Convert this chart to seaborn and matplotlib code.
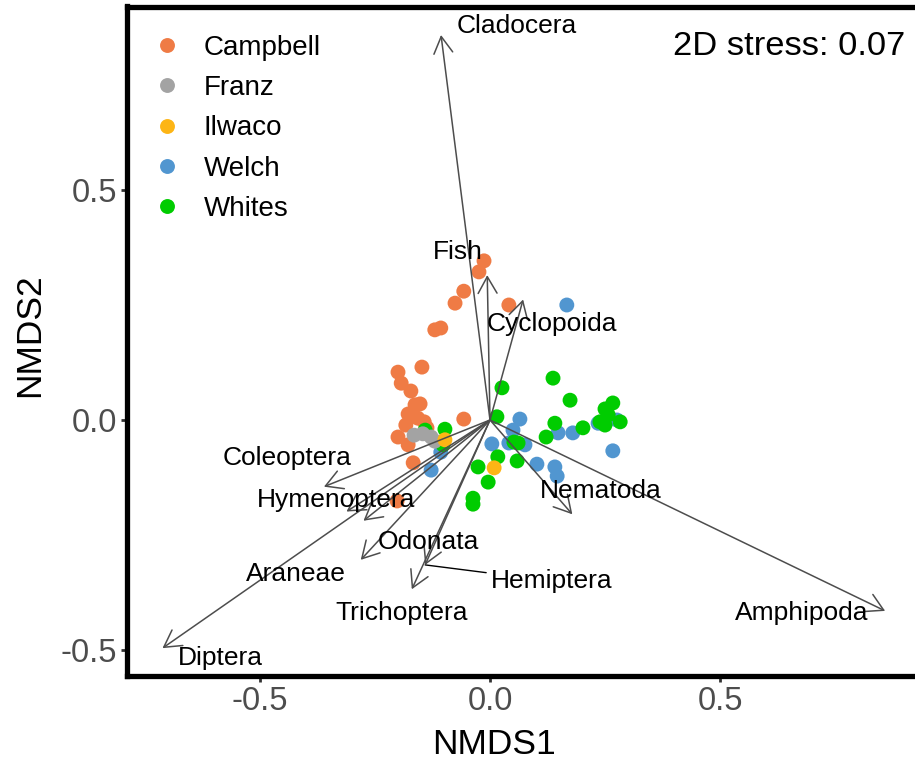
import numpy as np
import pandas as pd
import matplotlib
matplotlib.use("Agg")
import matplotlib.pyplot as plt
import seaborn as sns

# ---------------- data ----------------
site_order = ["Campbell", "Franz", "Ilwaco", "Welch", "Whites"]
site_colors = ["#EF7B45", "#A3A3A3", "#FDB515", "#5196D0", "#00CC00"]
draw_order = ["Campbell", "Welch", "Whites", "Franz", "Ilwaco"]

campbell_x = [-0.013, -0.024, -0.057, -0.076, 0.041, -0.107, -0.120, -0.200, -0.148, -0.193,
              -0.172, -0.152, -0.163, -0.178, -0.183, -0.157, -0.143, -0.137, -0.057, -0.200,
              -0.178, -0.167, -0.202]
campbell_y = [0.346, 0.322, 0.280, 0.254, 0.250, 0.200, 0.196, 0.104, 0.115, 0.080,
              0.063, 0.035, 0.033, 0.013, -0.011, 0.004, -0.004, -0.017, 0.002, -0.037,
              -0.054, -0.093, -0.176]
franz_x = [-0.165, -0.146, -0.128, -0.120]
franz_y = [-0.033, -0.030, -0.037, -0.046]
ilwaco_x = [-0.098, 0.009]
ilwaco_y = [-0.043, -0.104]
welch_x = [0.167, 0.065, 0.050, 0.004, 0.041, 0.076, 0.102, 0.141, 0.146, 0.148,
           0.180, 0.235, 0.267, 0.276, -0.128, -0.107, -0.141]
welch_y = [0.250, 0.002, -0.022, -0.052, -0.050, -0.054, -0.096, -0.102, -0.122, -0.028,
           -0.028, -0.007, -0.067, 0.000, -0.109, -0.070, -0.028]
whites_x = [0.026, 0.137, 0.174, 0.015, 0.141, 0.122, 0.202, 0.052, 0.061, 0.017,
            0.059, -0.026, -0.004, -0.037, -0.037, -0.098, -0.102, -0.141, 0.250, 0.267,
            0.239, 0.250, 0.283, 0.257]
whites_y = [0.070, 0.091, 0.043, 0.007, -0.007, -0.037, -0.017, -0.048, -0.050, -0.080,
            -0.089, -0.102, -0.135, -0.170, -0.183, -0.020, -0.054, -0.022, 0.024, 0.037,
            -0.004, -0.011, -0.004, 0.011]

taxa = ["Cladocera", "Fish", "Cyclopoida", "Coleoptera", "Hymenoptera", "Odonata",
        "Araneae", "Trichoptera", "Hemiptera", "Diptera", "Nematoda", "Amphipoda"]
vec_x = [-0.1065, -0.006, 0.072, -0.361, -0.312, -0.275, -0.281, -0.170, -0.141, -0.712, 0.179, 0.859]
vec_y = [0.837, 0.315, 0.262, -0.145, -0.199, -0.219, -0.304, -0.368, -0.315, -0.496, -0.205, -0.415]
lab_x = [0.059, -0.069, 0.135, -0.441, -0.335, -0.133, -0.422, -0.193, 0.134, -0.587, 0.240, 0.678]
lab_y = [0.857, 0.366, 0.209, -0.083, -0.174, -0.265, -0.335, -0.420, -0.350, -0.518, -0.154, -0.420]
lab_segment = [False, False, False, False, False, False, False, False, True, False, False, False]

stress_text = "2D stress: 0.07"
xticks = [-0.5, 0.0, 0.5]
yticks = [-0.5, 0.0, 0.5]

# ---------------- frame ----------------
site_xy = {"Campbell": (campbell_x, campbell_y), "Franz": (franz_x, franz_y),
           "Ilwaco": (ilwaco_x, ilwaco_y), "Welch": (welch_x, welch_y),
           "Whites": (whites_x, whites_y)}
df = pd.concat([pd.DataFrame({"NMDS1": site_xy[s][0], "NMDS2": site_xy[s][1], "site": s})
                for s in draw_order], ignore_index=True)

sns.set_theme(style="white")
plt.rcParams["font.family"] = ["Liberation Sans", "DejaVu Sans"]

fig = plt.figure(figsize=(9.15, 7.63), dpi=100)
W, H = 915.0, 763.0
left_px, right_px, top_px, bottom_px = 127.0, 915.0, 6.5, 675.5
ax = fig.add_axes([left_px / W, (H - bottom_px) / H, (right_px - left_px) / W, (bottom_px - top_px) / H])

sns.scatterplot(data=df, x="NMDS1", y="NMDS2", hue="site", hue_order=site_order,
                palette=dict(zip(site_order, site_colors)), s=115, linewidth=0,
                alpha=1, ax=ax, zorder=2)

# arrows
for tx, vx, vy in zip(taxa, vec_x, vec_y):
    ax.annotate("", xy=(vx, vy), xytext=(0, 0),
                arrowprops=dict(arrowstyle="->,head_length=1.2,head_width=0.68",
                                color="#4D4D4D", lw=1.1, shrinkA=0, shrinkB=0,
                                mutation_scale=10),
                zorder=3)

# labels
for tx, vx, vy, lx, ly, seg in zip(taxa, vec_x, vec_y, lab_x, lab_y, lab_segment):
    if seg:
        ax.annotate(tx, xy=(vx, vy), xytext=(lx, ly), fontsize=19, color="black",
                    ha="center", va="center",
                    arrowprops=dict(arrowstyle="-", color="black", lw=1.0,
                                    shrinkA=1, shrinkB=0), zorder=4)
    else:
        ax.text(lx, ly, tx, fontsize=19, color="black", ha="center", va="center", zorder=4)

ax.text(0.902, 0.812, stress_text, fontsize=24.8, color="black", ha="right", va="center")

# axes
ax.set_xlim((left_px - 490) / 460, (right_px - 490) / 460)
ax.set_ylim((420 - bottom_px) / 460, (420 - top_px) / 460)
ax.set_xticks(xticks)
ax.set_yticks(yticks)
ax.set_xticklabels([f"{t:.1f}" for t in xticks])
ax.set_yticklabels([f"{t:.1f}" for t in yticks])
ax.tick_params(axis="both", which="both", direction="out", length=4.3, width=2.0,
               color="#333333", labelcolor="#4D4D4D", labelsize=23.5, pad=3,
               bottom=True, left=True)
for side in ["left", "bottom", "top"]:
    ax.spines[side].set_visible(True)
    ax.spines[side].set_linewidth(3.8)
    ax.spines[side].set_color("black")
ax.spines["right"].set_visible(False)

ax.set_xlabel("NMDS1", fontsize=25.5, color="black")
ax.set_ylabel("NMDS2", fontsize=25.5, color="black")
ax.xaxis.set_label_coords((494 - left_px) / (right_px - left_px), (bottom_px - 745) / (bottom_px - top_px))
ax.xaxis.label.set_va("center")
ax.yaxis.set_label_coords((30 - left_px) / (right_px - left_px), (bottom_px - 335) / (bottom_px - top_px))
ax.yaxis.label.set_va("center")

sns.move_legend(ax, loc="upper left",
                bbox_to_anchor=((153 - left_px) / (right_px - left_px), (bottom_px - 35) / (bottom_px - top_px)),
                frameon=False, title=None, fontsize=20, handlelength=1.0, handletextpad=0.83,
                labelspacing=0.51, borderpad=0, borderaxespad=0, markerscale=1.0)
for t in ax.get_legend().get_texts():
    t.set_color("black")

fig.savefig("out.png", dpi=100)
